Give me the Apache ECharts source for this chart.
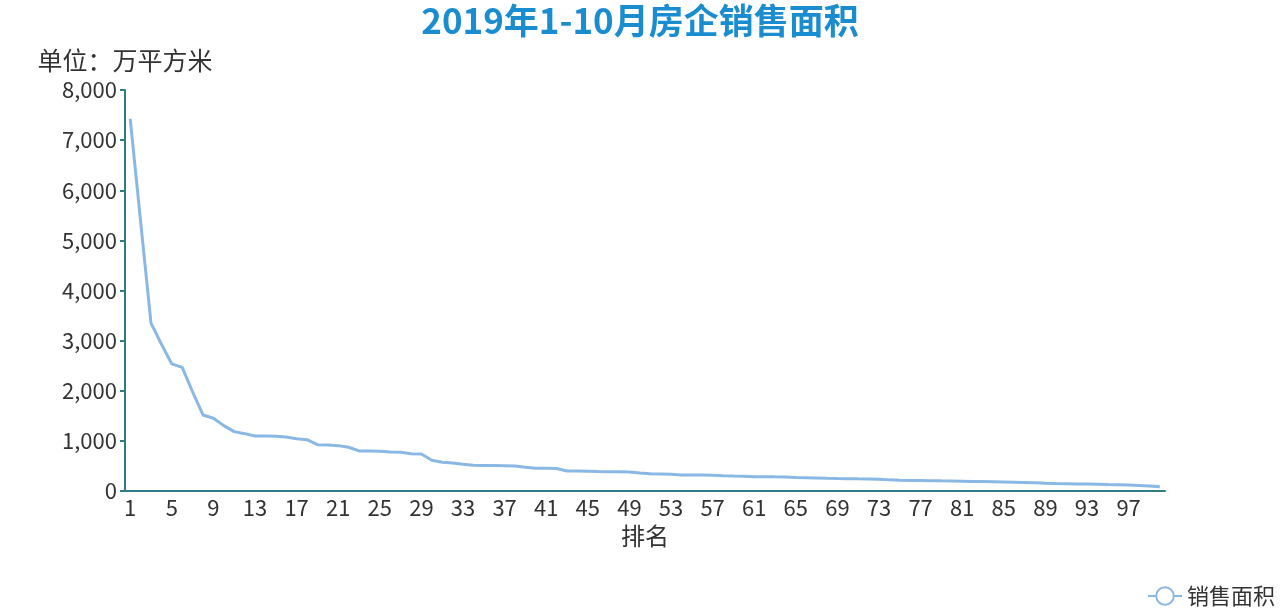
<!DOCTYPE html>
<html>
<head>
<meta charset="utf-8">
<script src="https://cdn.jsdelivr.net/npm/echarts@6/dist/echarts.min.js"></script>
<style>
html,body{margin:0;padding:0;background:#fff;}
#main{width:1280px;height:614px;}
</style>
</head>
<body>
<div id="main"></div>
<script>
const titleText = '2019年1-10月房企销售面积';
const yAxisName = '单位：万平方米';
const xAxisName = '排名';
const seriesName = '销售面积';
const ranks = [];
for (let i = 1; i <= 100; i++) ranks.push(String(i));
const salesArea = [
  7425, 5380, 3350, 2930, 2535, 2465, 1975, 1517, 1451, 1304,
  1184, 1144, 1098, 1095, 1092, 1078, 1044, 1024, 924, 918,
  905, 872, 800, 798, 795, 778, 772, 745, 738, 615,
  575, 558, 532, 515, 510, 508, 506, 500, 474, 455,
  453, 450, 400, 399, 396, 390, 386, 385, 380, 358,
  346, 340, 333, 320, 320, 318, 313, 306, 300, 296,
  286, 285, 282, 280, 268, 264, 258, 252, 248, 245,
  242, 240, 236, 222, 213, 210, 208, 205, 202, 200,
  196, 192, 188, 183, 178, 173, 168, 163, 155, 150,
  146, 142, 139, 136, 130, 125, 118, 110, 100, 85
];
const yMin = 0, yMax = 8000, yStep = 1000;

const chart = echarts.init(document.getElementById('main'));
const font = '"Noto Sans CJK SC", "Noto Sans", sans-serif';
chart.setOption({
  backgroundColor: '#fff',
  textStyle: { fontFamily: font },
  title: {
    text: titleText,
    left: 'center',
    top: -2,
    textStyle: { fontSize: 35, fontWeight: 'bold', color: '#1a8dd0', fontFamily: font }
  },
  legend: {
    data: [seriesName],
    right: 0,
    bottom: 2,
    itemWidth: 34,
    itemHeight: 22,
    textStyle: { fontSize: 22, color: '#333', fontFamily: font }
  },
  grid: { left: 125, right: 115, top: 90, bottom: 123 },
  xAxis: {
    type: 'category',
    data: ranks,
    name: xAxisName,
    nameLocation: 'middle',
    nameGap: 32,
    nameTextStyle: { fontSize: 24, color: '#333' },
    axisLine: { lineStyle: { color: '#2f7d84', width: 2 } },
    axisTick: { show: false },
    axisLabel: { interval: 3, fontSize: 22, color: '#333', margin: 6 },
    splitLine: { show: false }
  },
  yAxis: {
    type: 'value',
    min: yMin, max: yMax, interval: yStep,
    name: yAxisName,
    nameGap: 17,
    nameTextStyle: { fontSize: 25, color: '#333' },
    axisLine: { show: true, lineStyle: { color: '#2f7d84', width: 2 } },
    axisTick: { show: true, length: 5, lineStyle: { color: '#2f7d84', width: 2 } },
    axisLabel: {
      fontSize: 22, color: '#333', margin: 8,
      formatter: v => v.toLocaleString('en-US')
    },
    splitLine: { show: false }
  },
  series: [{
    name: seriesName,
    type: 'line',
    data: salesArea,
    showSymbol: false,
    symbol: 'emptyCircle',
    lineStyle: { width: 3, color: '#8ab8e4' },
    itemStyle: { color: '#8ab8e4' }
  }]
});
</script>
</body>
</html>
